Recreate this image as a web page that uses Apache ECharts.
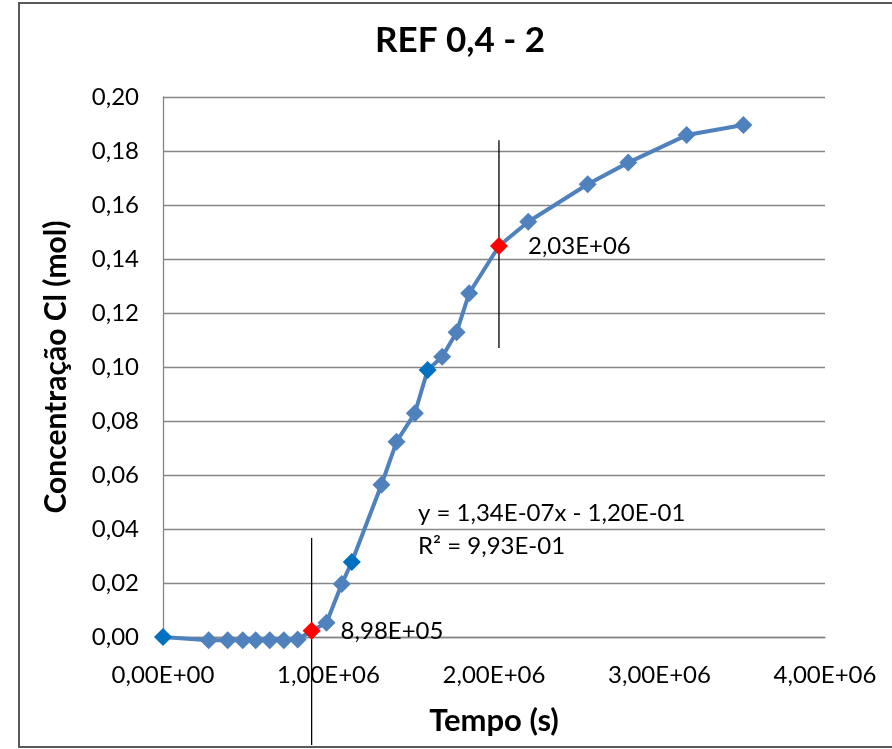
<!DOCTYPE html>
<html>
<head>
<meta charset="utf-8">
<title>REF 0,4 - 2</title>
<script src="https://cdn.jsdelivr.net/npm/echarts@6/dist/echarts.min.js"></script>
<style>
  html, body { margin: 0; padding: 0; background: #ffffff; }
  #chart { width: 892px; height: 749px; }
</style>
</head>
<body>
<div id="chart"></div>
<script>
// Time (s) and chloride concentration (mol) for sample REF 0,4 - 2
const timeS = [0, 276000, 391000, 482000, 560000, 645000, 730000, 814000, 898000, 988000,
  1080000, 1141000, 1320000, 1411000, 1522000, 1599000, 1687000, 1774000, 1850000, 2030000,
  2207000, 2566000, 2811000, 3164000, 3507000];
const concCl = [0, -0.0012, -0.0012, -0.0012, -0.0012, -0.0012, -0.0012, -0.0009, 0.0023, 0.0053,
  0.0196, 0.0278, 0.0564, 0.0723, 0.0829, 0.0989, 0.1038, 0.1129, 0.1273, 0.1448,
  0.1538, 0.1677, 0.1757, 0.1859, 0.1896];

// Start and end of the linear stretch (red points) and the darker highlighted points
const limitIdx = [8, 19];
const darkIdx = [0, 11, 15];

// Vertical guide lines at the limits: [time, yFrom, yTo]
const guideLines = [
  [898000, -0.040, 0.0367],
  [2030000, 0.107, 0.184]
];

// Linear fit text
const fitText = ['y = 1,34E-07x - 1,20E-01', 'R\u00b2 = 9,93E-01'];

const xTickStep = 1000000;
const yTickStep = 0.02;

function sci(v) {
  const parts = Number(v).toExponential(2).split('e');
  const mant = parts[0].replace('.', ',');
  const exp = parseInt(parts[1], 10);
  const sign = exp < 0 ? '-' : '+';
  const digits = String(Math.abs(exp)).padStart(2, '0');
  return mant + 'E' + sign + digits;
}

const FONT = 'Lato, "Liberation Sans", sans-serif';
const SMALL = 24;

const points = timeS.map(function (t, i) {
  const p = { value: [t, concCl[i]] };
  if (limitIdx.indexOf(i) >= 0) {
    p.itemStyle = { color: '#FF0000' };
    p.label = {
      show: true,
      position: 'right',
      distance: 20,
      formatter: function (d) { return sci(d.value[0]); },
      color: '#000000',
      fontFamily: FONT,
      fontSize: SMALL
    };
  } else if (darkIdx.indexOf(i) >= 0) {
    p.itemStyle = { color: '#0070C0' };
  }
  return p;
});

const guideSeries = guideLines.map(function (g) {
  return {
    type: 'line',
    data: [[g[0], g[1]], [g[0], g[2]]],
    symbol: 'none',
    clip: false,
    silent: true,
    lineStyle: { color: '#000000', width: 1.3 },
    z: 1
  };
});

const chart = echarts.init(document.getElementById('chart'), null, { renderer: 'canvas' });

chart.setOption({
  animation: false,
  backgroundColor: '#ffffff',
  title: {
    text: 'REF 0,4 - 2',
    left: 370,
    top: 18,
    textStyle: { fontFamily: FONT, fontWeight: 'bold', fontSize: 35, color: '#000000' }
  },
  grid: { left: 163, right: 67, top: 97, bottom: 112, containLabel: false },
  xAxis: {
    type: 'value',
    min: 0,
    max: 4000000,
    interval: xTickStep,
    name: 'Tempo (s)',
    nameLocation: 'middle',
    nameGap: 68,
    nameTextStyle: { fontFamily: FONT, fontWeight: 'bold', fontSize: 31, color: '#000000' },
    axisLine: { show: true, onZero: false, lineStyle: { color: '#868686', width: 1.3 } },
    axisTick: { show: false },
    splitLine: { show: false },
    axisLabel: {
      margin: 26,
      formatter: sci,
      fontFamily: FONT,
      fontSize: SMALL,
      color: '#000000'
    }
  },
  yAxis: {
    type: 'value',
    min: 0,
    max: 0.2,
    interval: yTickStep,
    name: 'Concentração Cl (mol)',
    nameLocation: 'middle',
    nameGap: 92,
    nameTextStyle: { fontFamily: FONT, fontWeight: 'bold', fontSize: 30, color: '#000000' },
    axisLine: { show: true, lineStyle: { color: '#868686', width: 1.3 } },
    axisTick: { show: false },
    splitLine: { show: true, lineStyle: { color: '#868686', width: 1.3 } },
    axisLabel: {
      margin: 24,
      formatter: function (v) { return v.toFixed(2).replace('.', ','); },
      fontFamily: FONT,
      fontSize: SMALL,
      color: '#000000'
    }
  },
  graphic: [
    {
      type: 'rect',
      shape: { x: 19, y: 3, width: 900, height: 744 },
      style: { fill: 'none', stroke: '#595959', lineWidth: 2 },
      silent: true,
      z: 100
    },
    {
      type: 'text',
      left: 418,
      top: 501,
      style: { text: fitText[0], fontFamily: FONT, fontSize: SMALL, fill: '#000000' }
    },
    {
      type: 'text',
      left: 418,
      top: 534,
      style: { text: fitText[1], fontFamily: FONT, fontSize: SMALL, fill: '#000000' }
    }
  ],
  series: guideSeries.concat([
    {
      type: 'line',
      data: points,
      symbol: 'diamond',
      symbolSize: 18,
      clip: false,
      itemStyle: { color: '#4F81BD' },
      lineStyle: { color: '#4F81BD', width: 4 },
      z: 3
    }
  ])
});
</script>
</body>
</html>
